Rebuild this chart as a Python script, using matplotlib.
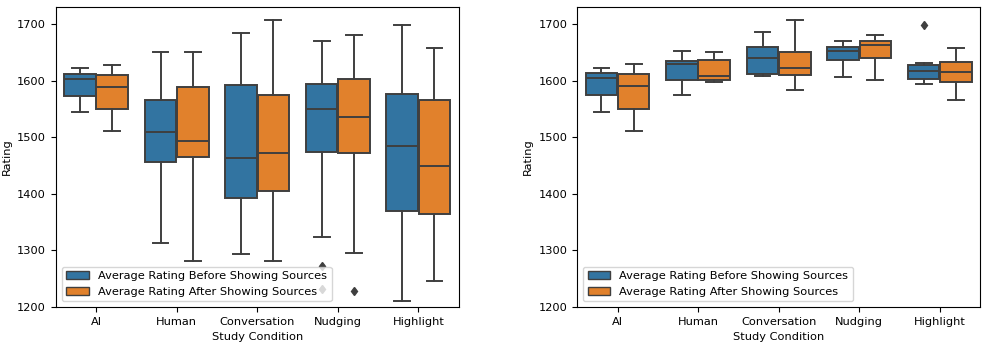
import numpy as np
import matplotlib
matplotlib.use("Agg")
import matplotlib.pyplot as plt
from matplotlib.patches import Patch

# =========================
# DATA
# =========================
conditions = ["AI", "Human", "Conversation", "Nudging", "Highlight"]
series = ["Average Rating Before Showing Sources", "Average Rating After Showing Sources"]

# left panel: [whislo, q1, med, q3, whishi] per condition
left_before = [
    [1545, 1573, 1603, 1612, 1623],
    [1313, 1457, 1509, 1566, 1651],
    [1293, 1393, 1463, 1592, 1685],
    [1323, 1474, 1550, 1595, 1670],
    [1211, 1370, 1485, 1577, 1699],
]
left_after = [
    [1511, 1550, 1589, 1610, 1628],
    [1281, 1465, 1494, 1589, 1650],
    [1281, 1405, 1473, 1575, 1707],
    [1296, 1473, 1536, 1603, 1681],
    [1246, 1364, 1449, 1566, 1657],
]
left_fliers_before = [[], [], [], [1273, 1231], []]
left_fliers_after = [[], [], [], [1229], []]

# right panel
right_before = [
    [1545, 1574, 1604, 1613, 1623],
    [1575, 1601, 1629, 1635, 1652],
    [1608, 1612, 1640, 1660, 1686],
    [1607, 1636, 1652, 1660, 1670],
    [1594, 1603, 1617, 1627, 1632],
]
right_after = [
    [1511, 1550, 1590, 1611, 1629],
    [1598, 1601, 1608, 1637, 1650],
    [1584, 1610, 1623, 1650, 1708],
    [1601, 1640, 1663, 1670, 1681],
    [1565, 1598, 1615, 1633, 1657],
]
right_fliers_before = [[], [], [], [], [1698]]
right_fliers_after = [[], [], [], [], []]

colors = ["#3274a1", "#e1812c"]
line_col = "#3f3f3f"

plt.rcParams["font.size"] = 8.2


def make_stats(rows, fliers):
    out = []
    for r, f in zip(rows, fliers):
        out.append(dict(whislo=r[0], q1=r[1], med=r[2], q3=r[3], whishi=r[4], fliers=f))
    return out


def draw_panel(ax, before, after, fb, fa):
    x = np.arange(len(conditions))
    for stats, offset, col in [(make_stats(before, fb), -0.2, colors[0]),
                               (make_stats(after, fa), 0.2, colors[1])]:
        ax.bxp(stats, positions=x + offset, widths=0.392, patch_artist=True,
               capwidths=0.196,
               boxprops=dict(facecolor=col, edgecolor=line_col, linewidth=1.4),
               medianprops=dict(color=line_col, linewidth=1.4),
               whiskerprops=dict(color=line_col, linewidth=1.4),
               capprops=dict(color=line_col, linewidth=1.4),
               flierprops=dict(marker="d", markerfacecolor=line_col,
                               markeredgecolor=line_col, markersize=4.5))
    ax.set_xticks(x)
    ax.set_xticklabels(conditions)
    ax.set_xlim(-0.5, len(conditions) - 0.5)
    ax.set_ylim(1200, 1730)
    ax.set_yticks([1200, 1300, 1400, 1500, 1600, 1700])
    ax.set_xlabel("Study Condition")
    ax.set_ylabel("Rating")
    handles = [Patch(facecolor=c, edgecolor=line_col, label=s) for c, s in zip(colors, series)]
    ax.legend(handles=handles, loc="lower left")


fig = plt.figure(figsize=(9.97, 3.57), dpi=100)
ax1 = fig.add_axes([0.056, 0.14, 0.404, 0.84])
ax2 = fig.add_axes([0.579, 0.14, 0.404, 0.84])

draw_panel(ax1, left_before, left_after, left_fliers_before, left_fliers_after)
draw_panel(ax2, right_before, right_after, right_fliers_before, right_fliers_after)

fig.savefig("out.png", dpi=100)
